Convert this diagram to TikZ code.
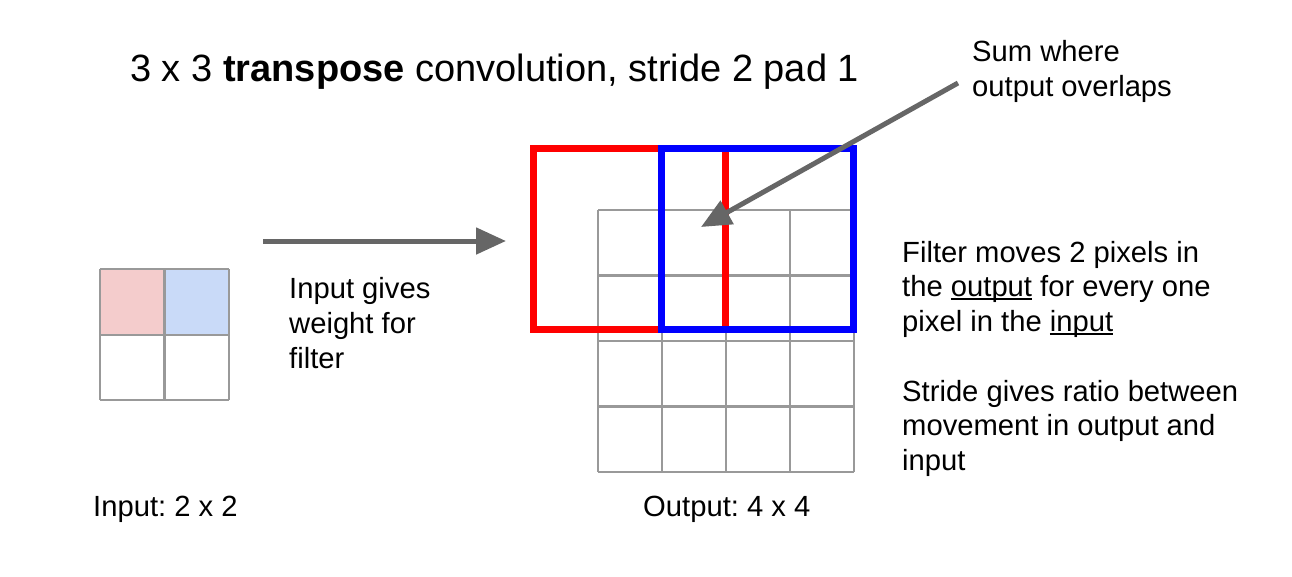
\documentclass[tikz,border=0pt]{standalone}
\usepackage{fontspec}
\setmainfont{Liberation Sans}
\usetikzlibrary{arrows.meta}
\frenchspacing
\definecolor{gridgray}{HTML}{999999}
\definecolor{arrowgray}{HTML}{666666}
\definecolor{cellpink}{HTML}{F4CCCC}
\definecolor{cellblue}{HTML}{C9DAF8}
\newcommand\myul[1]{\setbox0\hbox{#1}\rlap{\rule[-3.5pt]{\wd0}{2pt}}\box0\relax}
\tikzset{
  gridline/.style={draw=gridgray, line width=2.5pt},
  filterbox/.style={line width=7pt, line join=miter},
  bigarrow/.style={draw=arrowgray, line width=5pt, -{Triangle[length=30pt,width=26pt]}},
  body/.style={anchor=base west, inner sep=0pt, align=left, font=\fontsize{29.2}{34.7}\selectfont},
}
\begin{document}
\begin{tikzpicture}[x=1pt,y=-1pt]
\useasboundingbox (0,0) rectangle (1292,576);
% title
\node[anchor=base west, inner sep=0pt, font=\fontsize{38}{42}\selectfont] (title) at (130,81.7) {3 x 3 \textbf{transpose} convolution, stride 2 pad 1};
% input grid
\fill[cellpink] (100,269) rectangle (164.5,335);
\fill[cellblue] (164.5,269) rectangle (229,335);
\foreach \x in {100,164.5,229} \draw[gridline] (\x,269) -- (\x,400);
\foreach \y in {269,335,400} \draw[gridline] (100,\y) -- (229,\y);
\coordinate (input) at (164.5,335);
% output grid
\foreach \x in {598,662,726,790,854} \draw[gridline] (\x,210) -- (\x,472);
\foreach \y in {210,275.5,341,406.5,472} \draw[gridline] (598,\y) -- (854,\y);
% filter boxes
\draw[filterbox, red] (533,148) rectangle (725.5,329);
\draw[filterbox, blue] (661,148) rectangle (853.5,329);
\coordinate (redbox) at (506,241);
\coordinate (overlap) at (701,227);
% texts (base anchor = baseline of last line)
\node[body] (inputtext) at (289,368) {Input gives\\weight for\\filter};
\node[body] (sumtext) at (972,96) {Sum where\\output overlaps};
\node[body] (rightA) at (902,331.5) {Filter moves 2 pixels in\\the \myul{output} for every one\\pixel in the \myul{input}};
\node[body] (rightB) at (902,470.5) {Stride gives ratio between\\movement in output and\\input};
\node[body] (inlabel) at (93,516.7) {Input: 2 x 2};
\node[body] (outlabel) at (643,516.7) {Output: 4 x 4};
% arrows
\coordinate (a1start) at (263,241);
\coordinate (a2start) at (958,83);
\draw[bigarrow] (a1start) -- (redbox);
\draw[bigarrow] (a2start) -- (overlap);
\end{tikzpicture}
\end{document}
